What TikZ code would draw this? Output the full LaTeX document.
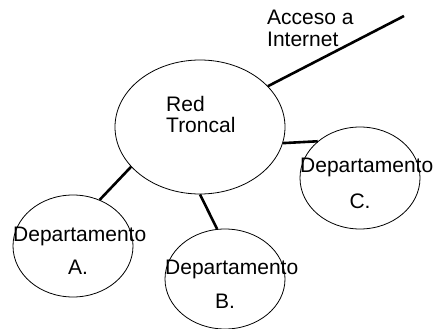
\documentclass[tikz,border=0pt]{standalone}
\usepackage{fontspec}
\setmainfont{Liberation Sans}
\usetikzlibrary{shapes.geometric}
\begin{document}
\begin{tikzpicture}[x=1pt,y=-1pt,
  oval/.style={draw,ellipse,line width=0.8pt,inner sep=0pt},
  lbl/.style={inner sep=0pt,font=\fontsize{21}{22}\selectfont},
  link/.style={line width=2.6pt}]
\useasboundingbox (0,0) rectangle (447,329);
\node[oval,minimum width=170pt,minimum height=134pt] (rt) at (200,127) {};
\node[oval,minimum width=120pt,minimum height=102pt] (dc) at (360,178) {};
\node[oval,minimum width=120pt,minimum height=102pt] (da) at (73,246) {};
\node[oval,minimum width=120pt,minimum height=100pt] (db) at (225,279) {};
\coordinate (inet) at (404,16);
\draw[link] (rt.31.7) -- (inet);
\draw[link] (rt.-11.6) -- (dc.139.6);
\draw[link] (rt.210.8) -- (da.60.4);
\draw[link] (rt.270) -- (db.99.3);
\node[lbl,anchor=base west] (t1) at (267,25) {Acceso a};
\node[lbl,anchor=base west] (t2) at (267,47) {Internet};
\node[lbl,anchor=base west] (t3) at (166,111) {Red};
\node[lbl,anchor=base west] (t4) at (166,132) {Troncal};
\node[lbl,anchor=base west] (t5) at (300,172) {Departamento};
\node[lbl,anchor=base] (t6) at (360,208) {C.};
\node[lbl,anchor=base west] (t7) at (13,241) {Departamento};
\node[lbl,anchor=base] (t8) at (78,274) {A.};
\node[lbl,anchor=base west] (t9) at (165,274) {Departamento};
\node[lbl,anchor=base] (t10) at (225,308) {B.};
\end{tikzpicture}
\end{document}
